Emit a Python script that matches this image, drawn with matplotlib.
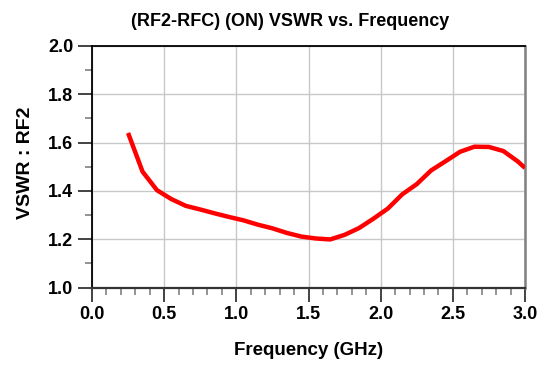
import matplotlib
matplotlib.use("Agg")
import matplotlib.pyplot as plt
from matplotlib.ticker import MultipleLocator

plt.rcParams['font.family'] = ['Liberation Sans', 'DejaVu Sans']

freq_ghz = [0.25, 0.35, 0.45, 0.55, 0.65, 0.75, 0.85, 0.95, 1.05, 1.15,
            1.25, 1.35, 1.45, 1.55, 1.65, 1.75, 1.85, 1.95, 2.05, 2.15,
            2.25, 2.35, 2.45, 2.55, 2.65, 2.75, 2.85, 2.95, 3.0]
vswr = [1.64, 1.48, 1.403, 1.366, 1.338, 1.323, 1.307, 1.292, 1.278, 1.260,
        1.245, 1.226, 1.211, 1.203, 1.199, 1.218, 1.246, 1.285, 1.327, 1.386,
        1.428, 1.485, 1.523, 1.562, 1.583, 1.582, 1.565, 1.522, 1.495]

x_ticks = [0.0, 0.5, 1.0, 1.5, 2.0, 2.5, 3.0]
y_ticks = [1.0, 1.2, 1.4, 1.6, 1.8, 2.0]

fig = plt.figure(figsize=(5.48, 3.65), dpi=100)
# axes: x 92..525 px, y 46..287.5 px (from top)
ax = fig.add_axes([92 / 548, (365 - 287.5) / 365, 433 / 548, 241.5 / 365])

ax.plot(freq_ghz, vswr, color='#ff0000', linewidth=3.2, solid_capstyle='butt', zorder=3)

ax.set_xlim(0.0, 3.0)
ax.set_ylim(1.0, 2.0)
ax.set_xticks(x_ticks)
ax.set_yticks(y_ticks)
ax.set_xticklabels([f"{v:.1f}" for v in x_ticks])
ax.set_yticklabels([f"{v:.1f}" for v in y_ticks])
ax.xaxis.set_minor_locator(MultipleLocator(0.1))
ax.yaxis.set_minor_locator(MultipleLocator(0.1))

ax.grid(True, which='major', color='#c8c8c8', linewidth=1.0, zorder=0)
ax.set_axisbelow(True)

ax.tick_params(axis='both', which='major', direction='out', length=10, width=1.2,
               color='#222222', labelsize=13)
ax.tick_params(axis='x', which='major', pad=3)
ax.tick_params(axis='y', which='major', pad=3.5)
ax.tick_params(axis='both', which='minor', direction='out', length=4.8, width=1.2,
               color='#808080')
for lbl in ax.get_xticklabels() + ax.get_yticklabels():
    lbl.set_fontweight('bold')

for s in ['left', 'top']:
    ax.spines[s].set_color('black')
    ax.spines[s].set_linewidth(1.3)
ax.spines['bottom'].set_color('#333333')
ax.spines['bottom'].set_linewidth(1.6)
ax.spines['right'].set_color('#808080')
ax.spines['right'].set_linewidth(1.8)

ax.set_title('(RF2-RFC) (ON) VSWR vs. Frequency', fontsize=13, fontweight='bold',
             x=(290 - 92) / 433, y=(287.5 - 26) / 241.5, pad=0)
ax.set_xlabel('Frequency (GHz)', fontsize=13.5, fontweight='bold')
ax.xaxis.set_label_coords(0.5, (287.5 - 342) / 241.5)
ax.set_ylabel('VSWR : RF2', fontsize=14, fontweight='bold')
ax.yaxis.set_label_coords((34 - 92) / 433, (287.5 - 163) / 241.5)

fig.savefig('out.png', dpi=100)
